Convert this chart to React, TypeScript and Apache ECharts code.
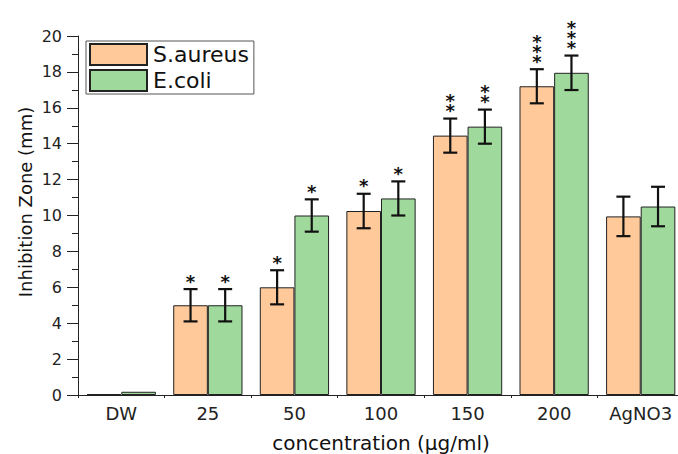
import React, { useEffect, useRef } from "react";
import * as echarts from "echarts";

const categories = ["DW", "25", "50", "100", "150", "200", "AgNO3"];
const saureus = [0.05, 5, 6, 10.25, 14.45, 17.2, 9.95];
const ecoli = [0.18, 5, 10, 10.95, 14.95, 17.95, 10.5];
const saureusErr = [0, 0.9, 0.95, 0.96, 0.95, 0.95, 1.1];
const ecoliErr = [0, 0.9, 0.9, 0.95, 0.95, 0.96, 1.1];
const saureusSig = ["", "*", "*", "*", "**", "***", ""];
const ecoliSig = ["", "*", "*", "*", "**", "***", ""];
const yTicks = [0, 2, 4, 6, 8, 10, 12, 14, 16, 18, 20];

const ORANGE = "#FFC99A";
const GREEN = "#A0D99C";
const FONT = "DejaVu Sans";

function makeErrSeries(name: string, vals: number[], errs: number[], sigs: string[], side: number) {
  return {
    type: "custom",
    name,
    z: 5,
    silent: true,
    data: vals.map((v, i) => [i, v, errs[i], sigs[i].length]),
    renderItem: (params: any, api: any) => {
      const idx = api.value(0);
      const v = api.value(1);
      const e = api.value(2);
      const n = api.value(3);
      const band = api.size([1, 0])[0];
      const barW = band * 0.4;
      const c = api.coord([idx, v]);
      const x = c[0] + side * barW / 2;
      const top = api.coord([idx, v + e])[1];
      const bot = api.coord([idx, v - e])[1];
      const children: any[] = [];
      const ls = { stroke: "#111", lineWidth: 2.2 };
      if (e > 0) {
        children.push({ type: "line", shape: { x1: x, y1: top, x2: x, y2: bot }, style: ls });
        children.push({ type: "line", shape: { x1: x - 7, y1: top, x2: x + 7, y2: top }, style: ls });
        children.push({ type: "line", shape: { x1: x - 7, y1: bot, x2: x + 7, y2: bot }, style: ls });
      }
      if (n > 0) {
        const txt = new Array(n).fill("*").join("\n");
        children.push({
          type: "text",
          x: x,
          y: top - 3,
          style: {
            text: txt,
            fontSize: 18,
            lineHeight: 10,
            fontFamily: FONT,
            fontWeight: "bold",
            fill: "#111",
            align: "center",
            verticalAlign: "bottom",
          },
        });
      }
      return { type: "group", children };
    },
  };
}

export default function App() {
  const ref = useRef<HTMLDivElement>(null);
  useEffect(() => {
    if (!ref.current) return;
    const chart = echarts.init(ref.current, null, { renderer: "svg" });
    chart.setOption({
      animation: false,
      backgroundColor: "#fff",
      grid: { left: 78, top: 36, width: 606, bottom: 59, containLabel: false, outerBoundsMode: "none" },
      legend: {
        data: ["S.aureus", "E.coli"],
        orient: "vertical",
        left: 86,
        top: 41,
        padding: [2, 5, 2, 3],
        itemWidth: 57,
        itemHeight: 21,
        itemGap: 3,
        borderColor: "#555",
        borderWidth: 1,
        borderRadius: 0,
        icon: "rect",
        textStyle: { fontFamily: FONT, fontSize: 22, color: "#111", lineHeight: 21, padding: [0, 0, 0, 1] },
      },
      xAxis: {
        type: "category",
        data: categories,
        name: "concentration (µg/ml)",
        nameLocation: "middle",
        nameGap: 38,
        nameTextStyle: { fontFamily: FONT, fontSize: 20, color: "#111" },
        axisLine: { show: true, lineStyle: { color: "#222", width: 1 } },
        axisTick: { show: true, length: 3, lineStyle: { color: "#222" } },
        axisLabel: { fontFamily: FONT, fontSize: 18, color: "#222", margin: 9 },
      },
      yAxis: {
        type: "value",
        min: 0,
        max: 20,
        interval: 2,
        splitLine: { show: false },
        axisLine: { show: true, lineStyle: { color: "#222", width: 1 } },
        axisTick: { show: true, inside: false, length: 11, lineStyle: { color: "#222" } },
        minorTick: { show: true, splitNumber: 2, length: 6, lineStyle: { color: "#222" } },
        axisLabel: {
          fontFamily: FONT,
          fontSize: 16,
          color: "#222",
          margin: 16,
          formatter: (v: number) => (yTicks.includes(v) ? String(v) : ""),
        },
      },
      graphic: [
        {
          type: "text",
          x: 25,
          y: 202,
          rotation: Math.PI / 2,
          style: {
            text: "Inhibition Zone (mm)",
            fontFamily: FONT,
            fontSize: 18,
            fill: "#111",
            align: "center",
            verticalAlign: "middle",
          },
        },
      ],
      series: [
        {
          type: "bar",
          name: "S.aureus",
          data: saureus,
          barGap: "0%",
          barCategoryGap: "20%",
          itemStyle: { color: ORANGE, borderColor: "#222", borderWidth: 1 },
        },
        {
          type: "bar",
          name: "E.coli",
          data: ecoli,
          barGap: "0%",
          barCategoryGap: "20%",
          itemStyle: { color: GREEN, borderColor: "#222", borderWidth: 1 },
        },
        makeErrSeries("S.aureus err", saureus, saureusErr, saureusSig, -1),
        makeErrSeries("E.coli err", ecoli, ecoliErr, ecoliSig, 1),
      ],
    });
    return () => chart.dispose();
  }, []);
  return <div ref={ref} style={{ width: 678, height: 454, position: "absolute", left: 0, top: 0 }} />;
}
